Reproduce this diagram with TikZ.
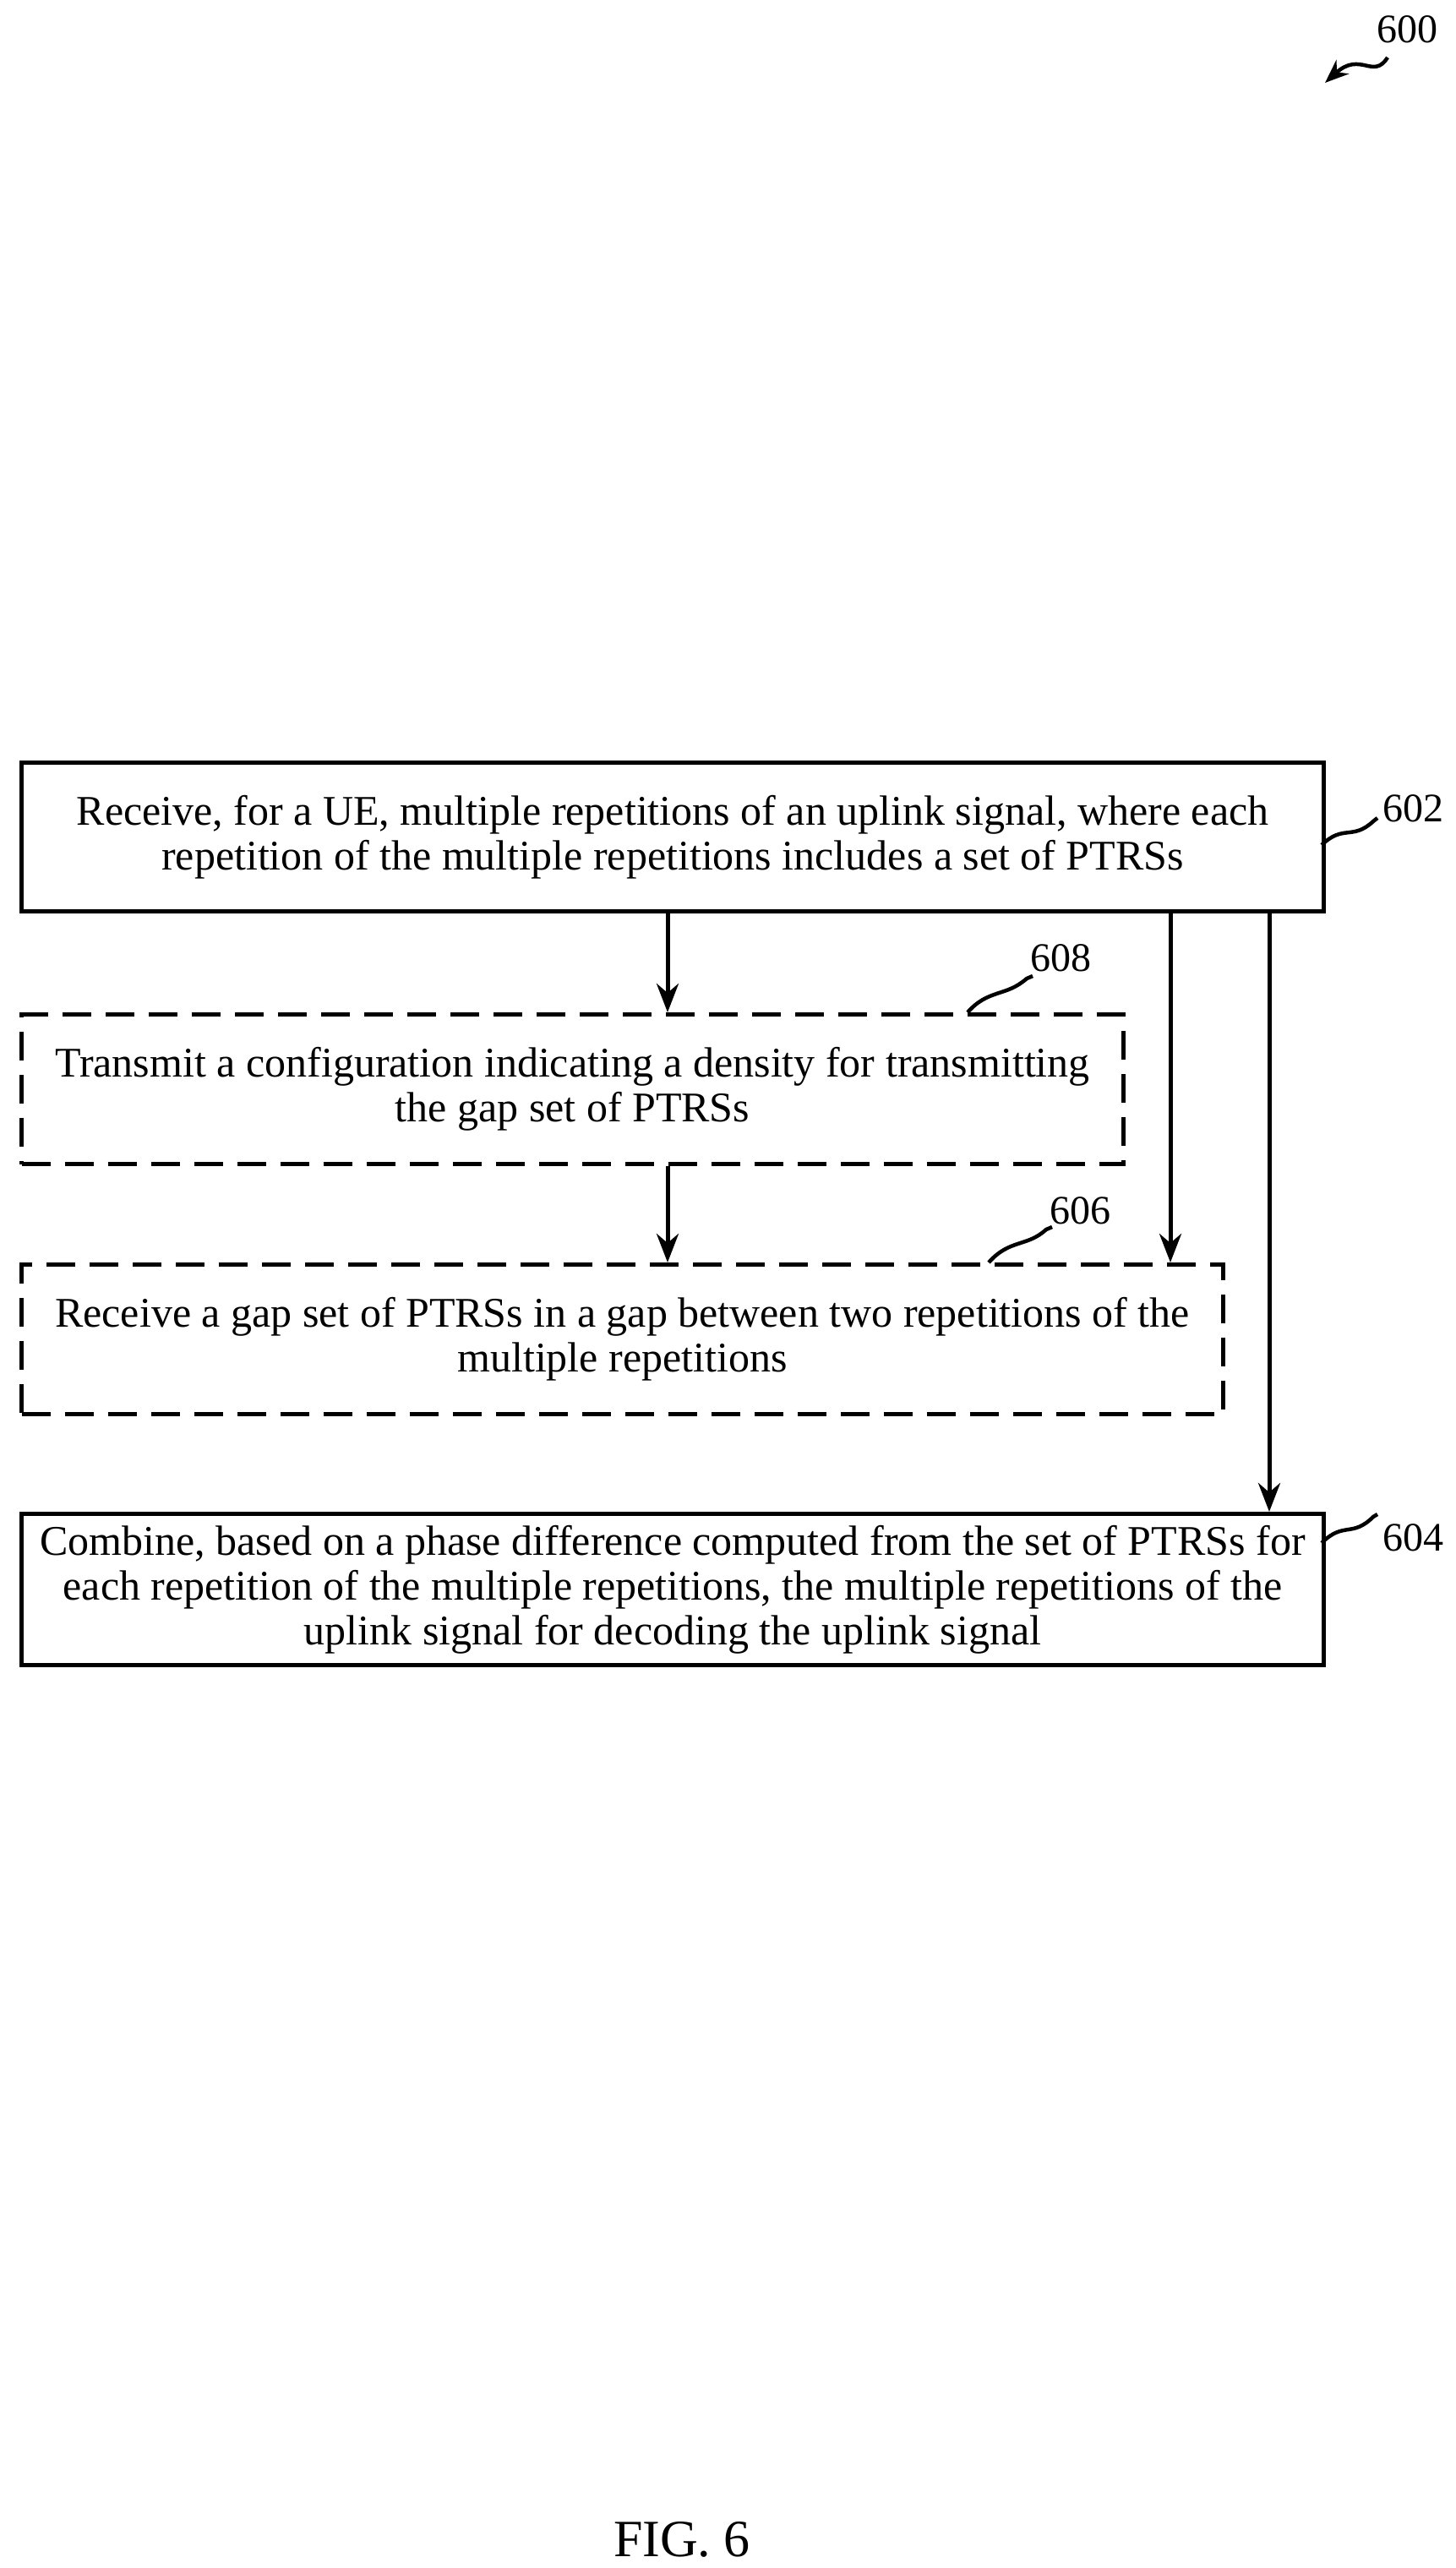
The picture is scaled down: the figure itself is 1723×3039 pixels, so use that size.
\documentclass[tikz,border=0pt]{standalone}
\usepackage{fontspec}
\setmainfont{Liberation Serif}
\usetikzlibrary{arrows.meta}
\begin{document}
\begin{tikzpicture}[x=1pt,y=-1pt,
  box/.style={draw,line width=5pt,anchor=north west,align=center,font=\fontsize{50}{53}\selectfont,inner sep=0pt},
  dbox/.style={box,dash pattern=on 34pt off 17pt},
  arr/.style={line width=5pt,-{Stealth[length=34pt,width=26pt]}},
  lbl/.style={font=\fontsize{48}{54}\selectfont},
  lead/.style={line width=4.5pt}]
\useasboundingbox (0,0) rectangle (1723,3039);
\node[box,minimum width=1541pt,minimum height=176pt] (b602) at (23,900) {Receive, for a UE, multiple repetitions of an uplink signal, where each\\repetition of the multiple repetitions includes a set of PTRSs};
\node[dbox,minimum width=1304pt,minimum height=177pt] (b608) at (23,1198) {Transmit a configuration indicating a density for transmitting\\the gap set of PTRSs};
\node[dbox,minimum width=1422pt,minimum height=177pt] (b606) at (23,1494) {Receive a gap set of PTRSs in a gap between two repetitions of the\\multiple repetitions};
\node[box,minimum width=1541pt,minimum height=179pt] (b604) at (23,1789) {Combine, based on a phase difference computed from the set of PTRSs for\\each repetition of the multiple repetitions, the multiple repetitions of the\\uplink signal for decoding the uplink signal};
\draw[arr] (790,0|-b602.south) -- (790,0|-b608.north);
\draw[arr] (790,0|-b608.south) -- (790,0|-b606.north);
\draw[arr] (1385,0|-b602.south) -- (1385,0|-b606.north);
\draw[arr] (1502,0|-b602.south) -- (1502,0|-b604.north);
\node[lbl] (l602) at (1672,957) {602};
\node[lbl] (l608) at (1255,1134) {608};
\node[lbl] (l606) at (1278,1433) {606};
\node[lbl] (l604) at (1672,1820) {604};
\node[lbl] (l600) at (1665,35) {600};
\coordinate (c602) at (1564,1000);
\draw[lead] (c602) .. controls (1590,975) and (1600,995) .. (1625,972) -- (1630,968);
\coordinate (c608) at (1145,1198);
\draw[lead] (c608) .. controls (1170,1170) and (1190,1180) .. (1215,1158) -- (1222,1155);
\coordinate (c606) at (1170,1494);
\draw[lead] (c606) .. controls (1195,1466) and (1215,1476) .. (1238,1455) -- (1245,1452);
\coordinate (c604) at (1564,1826);
\draw[lead] (c604) .. controls (1590,1800) and (1600,1820) .. (1625,1795) -- (1630,1792);
\coordinate (c600) at (1568,98);
\draw[line width=4.5pt,-{Stealth[length=28pt,width=22pt]}] (1642,68) .. controls (1625,95) and (1610,60) .. (c600);
\node[font=\fontsize{62}{70}\selectfont] (fig) at (807,3005) {FIG. 6};
\end{tikzpicture}
\end{document}
